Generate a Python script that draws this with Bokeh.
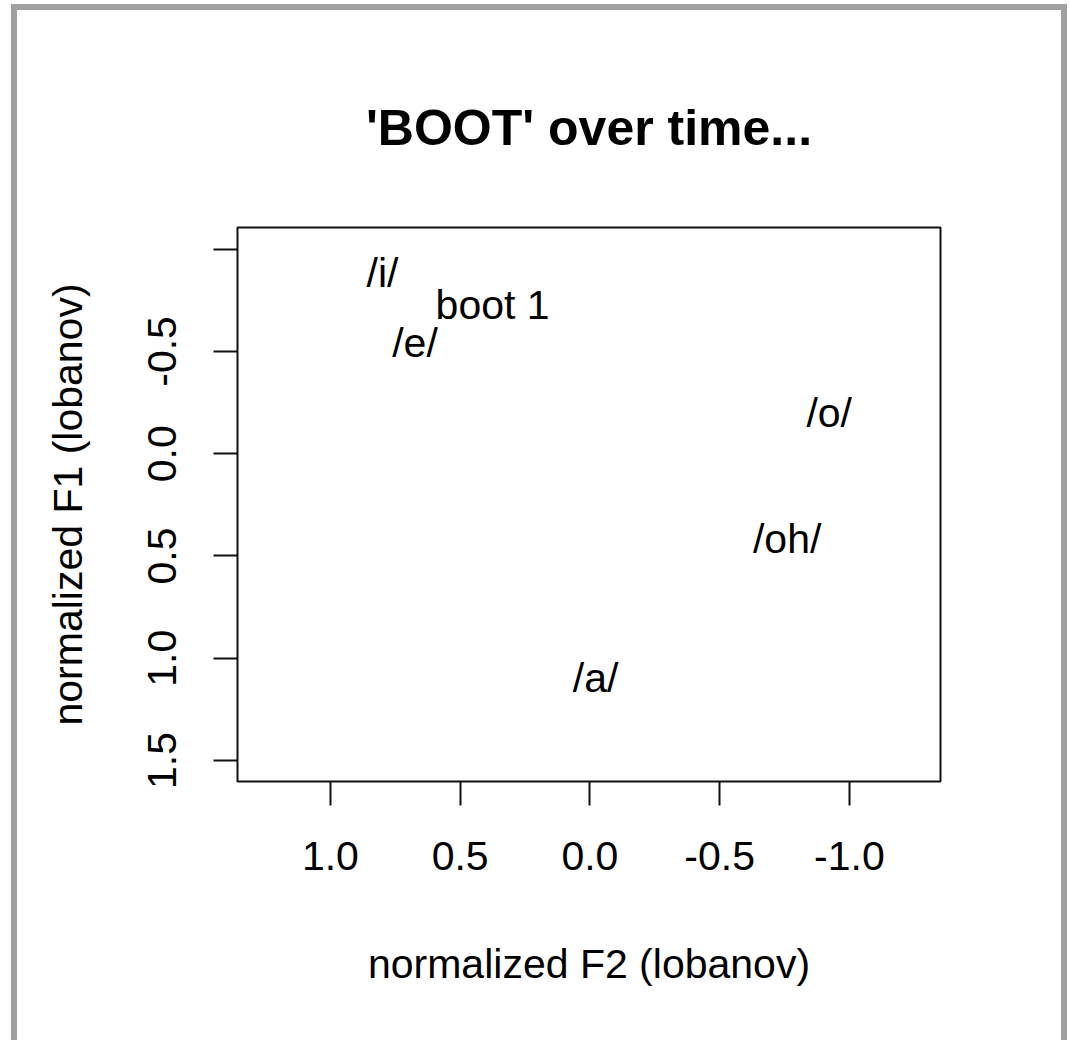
from bokeh.plotting import figure
from bokeh.models import Range1d, FixedTicker
from bokeh.core.properties import value
from bokeh.embed import file_html
from bokeh.resources import INLINE

# vowel labels placed in normalized formant space (F2 on x, F1 on y)
vowel_labels = ["/i/", "boot 1", "/e/", "/o/", "/oh/", "/a/"]
f2_norm = [0.799, 0.375, 0.674, -0.922, -0.760, -0.022]
f1_norm = [-0.884, -0.727, -0.541, -0.197, 0.415, 1.099]

x_ticks = [1.0, 0.5, 0.0, -0.5, -1.0]
x_tick_labels = ["1.0", "0.5", "0.0", "-0.5", "-1.0"]
y_ticks = [-1.0, -0.5, 0.0, 0.5, 1.0, 1.5]
y_tick_labels = ["", "-0.5", "0.0", "0.5", "1.0", "1.5"]

FONT = "Liberation Sans"
BASE = "41px"
GREY = "#a0a0a0"

p = figure(
    width=1070, height=1040,
    x_range=Range1d(1.358, -1.351),
    y_range=Range1d(1.603, -1.106),
    output_backend="svg", toolbar_location=None,
    min_border_left=237, min_border_right=130,
    min_border_top=227, min_border_bottom=259,
    title="'BOOT' over time...",
)
p.background_fill_color = "white"
p.border_fill_alpha = 0
p.grid.visible = False
p.outline_line_color = "#111111"
p.outline_line_width = 2

# white page with a grey frame drawn behind the (transparent) canvas
p.styles = {
    "background-color": "white",
    "background-image": ", ".join([f"linear-gradient({GREY}, {GREY})"] * 3),
    "background-size": "1056px 6px, 6px 1040px, 6px 1040px",
    "background-position": "11px 4px, 11px 4px, 1061px 4px",
    "background-repeat": "no-repeat",
}

p.title.align = "center"
p.title.text_font = FONT
p.title.text_font_size = "50px"
p.title.text_font_style = "bold"
p.title.text_color = "black"
p.title.standoff = 143

for ax in (p.xaxis[0], p.yaxis[0]):
    ax.axis_line_color = None
    ax.major_tick_line_color = "#111111"
    ax.major_tick_line_width = 2
    ax.major_tick_out = 24
    ax.major_tick_in = 0
    ax.minor_tick_line_color = None
    ax.major_label_text_font = FONT
    ax.major_label_text_font_size = BASE
    ax.major_label_text_color = "black"
    ax.axis_label_text_font = FONT
    ax.axis_label_text_font_size = BASE
    ax.axis_label_text_font_style = "normal"
    ax.axis_label_text_color = "black"

p.xaxis.ticker = FixedTicker(ticks=x_ticks)
p.xaxis.major_label_overrides = dict(zip(x_ticks, x_tick_labels))
p.xaxis.axis_label = "normalized F2 (lobanov)"
p.xaxis.major_label_standoff = 36
p.xaxis.axis_label_standoff = 68

p.yaxis.ticker = FixedTicker(ticks=y_ticks)
p.yaxis.major_label_overrides = dict(zip(y_ticks, y_tick_labels))
p.yaxis.major_label_orientation = "vertical"
p.yaxis.axis_label = "normalized F1 (lobanov)"
p.yaxis.major_label_standoff = 37
p.yaxis.axis_label_standoff = 55

p.text(x=f2_norm, y=f1_norm, text=vowel_labels,
       text_font=value(FONT), text_font_size=BASE, text_color="black",
       text_align="center", text_baseline="middle")

open("out.html", "w").write(file_html(p, INLINE))
